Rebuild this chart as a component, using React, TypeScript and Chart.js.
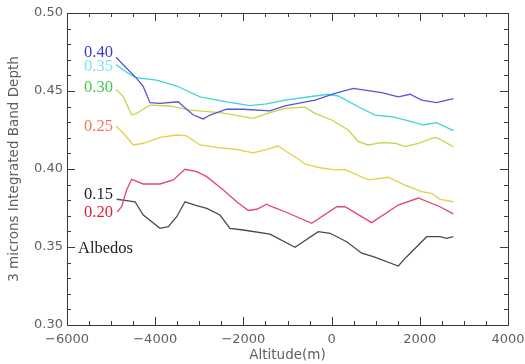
import React, { useEffect, useRef } from 'react';
import { Chart, registerables } from 'chart.js';

Chart.register(...registerables);

const X_MIN = -6000;
const X_MAX = 4000;
const Y_MIN = 0.3;
const Y_MAX = 0.5;
const X_STEP = 2000;
const Y_STEP = 0.05;
const X_MINOR = 500;
const Y_MINOR = 0.01;

const xTitle = 'Altitude(m)';
const yTitle = '3 microns Integrated Band Depth';

// Albedo 0.40
const blueAlt = [-4889, -4648, -4420, -4270, -4118, -3891, -3476, -3399, -3136, -2909, -2757, -2379, -2002, -1397, -1057, -376, 77, 492, 757, 1136, 1512, 1778, 2043, 2383, 2760];
const blueVal = [0.4716, 0.4646, 0.4581, 0.4528, 0.4425, 0.4421, 0.4431, 0.441, 0.4346, 0.4321, 0.4346, 0.4383, 0.4383, 0.4372, 0.4404, 0.4442, 0.4485, 0.4517, 0.4506, 0.4489, 0.4463, 0.4479, 0.4442, 0.4425, 0.4451];

// Albedo 0.35
const cyanAlt = [-4889, -4700, -4458, -4300, -3966, -3512, -2984, -2379, -1850, -1472, -1057, -376, -75, 152, 605, 984, 1363, 1816, 2080, 2383, 2760];
const cyanVal = [0.467, 0.463, 0.4588, 0.4581, 0.457, 0.4532, 0.4463, 0.4431, 0.4406, 0.4417, 0.4442, 0.4468, 0.4479, 0.4468, 0.4399, 0.4346, 0.4335, 0.4303, 0.4282, 0.4297, 0.4246];

// Albedo 0.30
const greenAlt = [-4889, -4723, -4533, -4420, -4118, -3664, -3211, -2531, -1776, -1397, -1057, -603, -376, 2, 379, 605, 832, 1136, 1438, 1665, 1966, 2270, 2383, 2760];
const greenVal = [0.4511, 0.4464, 0.4346, 0.4357, 0.441, 0.4404, 0.4378, 0.4361, 0.4325, 0.4361, 0.4389, 0.4396, 0.4357, 0.4314, 0.425, 0.4175, 0.4154, 0.4169, 0.4165, 0.4143, 0.4165, 0.4197, 0.4203, 0.4143];

// Albedo 0.25
const yellowAlt = [-4889, -4723, -4497, -4270, -3891, -3512, -3288, -2984, -2605, -2152, -1776, -1510, -1209, -1018, -755, -603, -263, 77, 304, 832, 1286, 1665, 2043, 2270, 2458, 2760];
const yellowVal = [0.4276, 0.4229, 0.4154, 0.4165, 0.4203, 0.4218, 0.4212, 0.4154, 0.4139, 0.4125, 0.4103, 0.4122, 0.4147, 0.4111, 0.4064, 0.4032, 0.4008, 0.3994, 0.3998, 0.393, 0.3947, 0.3897, 0.3855, 0.3844, 0.3806, 0.379];

// Albedo 0.20
const redAlt = [-4859, -4760, -4648, -4533, -4270, -3891, -3590, -3324, -3059, -2832, -2455, -2152, -1889, -1698, -1472, -1397, -1057, -451, 116, 304, 909, 1512, 1966, 2458, 2760];
const redVal = [0.3726, 0.3758, 0.3865, 0.3934, 0.3904, 0.3904, 0.393, 0.3998, 0.3983, 0.3951, 0.3865, 0.379, 0.3734, 0.3742, 0.3774, 0.3763, 0.3726, 0.3652, 0.3758, 0.3758, 0.3656, 0.3769, 0.3814, 0.3758, 0.3712];

// Albedo 0.15
const blackAlt = [-4873, -4648, -4458, -4270, -3891, -3703, -3512, -3324, -3098, -2832, -2531, -2304, -2002, -1397, -830, -302, -36, 343, 683, 946, 1512, 1703, 2156, 2458, 2609, 2760];
const blackVal = [0.3806, 0.3797, 0.379, 0.3705, 0.362, 0.363, 0.3694, 0.379, 0.3769, 0.3748, 0.3705, 0.362, 0.3609, 0.3583, 0.3498, 0.3598, 0.3588, 0.3534, 0.346, 0.3438, 0.3378, 0.3438, 0.3566, 0.3566, 0.3556, 0.3566];

const seriesNames = ['0.40', '0.35', '0.30', '0.25', '0.20', '0.15'];
const seriesAlts = [blueAlt, cyanAlt, greenAlt, yellowAlt, redAlt, blackAlt];
const seriesVals = [blueVal, cyanVal, greenVal, yellowVal, redVal, blackVal];
const lineColors = ['#5656d6', '#3ed6d8', '#c4d64a', '#e6d044', '#e6456c', '#4a4a4a'];

// In-plot annotations (data coordinates)
const labelTexts = ['0.40', '0.35', '0.30', '0.25', '0.15', '0.20', 'Albedos'];
const labelAlt = [-4957, -4957, -4957, -4957, -4957, -4957, -5751];
const labelVal = [0.4744, 0.4654, 0.4519, 0.4269, 0.3833, 0.372, 0.3487];
const labelAlign = ['right', 'right', 'right', 'right', 'right', 'right', 'left'];
const labelColors = ['#3a3ac8', '#7fe6e6', '#48c848', '#f07a5a', '#1e1e1e', '#e01e30', '#1e1e1e'];

const AXIS_COLOR = '#3a3a3a';
const TEXT_COLOR = '#606060';

const tickPlugin = {
  id: 'albedoTicks',
  afterDraw(chart: any) {
    const ctx: CanvasRenderingContext2D = chart.ctx;
    const xs = chart.scales.x;
    const ys = chart.scales.y;
    const L = Math.round(xs.getPixelForValue(X_MIN));
    const R = Math.round(xs.getPixelForValue(X_MAX));
    const T = Math.round(ys.getPixelForValue(Y_MAX));
    const B = Math.round(ys.getPixelForValue(Y_MIN));
    ctx.save();
    ctx.fillStyle = AXIS_COLOR;
    for (let v = X_MIN; v <= X_MAX + 1e-6; v += X_MINOR) {
      const px = Math.round(xs.getPixelForValue(v));
      const len = Math.abs(v % X_STEP) < 1e-6 ? 8 : 4;
      ctx.fillRect(px, B - len, 1, len);
      ctx.fillRect(px, T, 1, len);
    }
    const nY = Math.round((Y_MAX - Y_MIN) / Y_MINOR);
    const per = Math.round(Y_STEP / Y_MINOR);
    for (let i = 0; i <= nY; i++) {
      const v = Y_MIN + i * Y_MINOR;
      const py = Math.round(ys.getPixelForValue(v));
      const len = i % per === 0 ? 8 : 4;
      ctx.fillRect(L, py, len, 1);
      ctx.fillRect(R - len, py, len, 1);
    }
    ctx.restore();
  },
};

const textPlugin = {
  id: 'albedoText',
  afterDraw(chart: any) {
    const ctx: CanvasRenderingContext2D = chart.ctx;
    const xs = chart.scales.x;
    const ys = chart.scales.y;
    const L = xs.getPixelForValue(X_MIN);
    const R = xs.getPixelForValue(X_MAX);
    const T = ys.getPixelForValue(Y_MAX);
    const B = ys.getPixelForValue(Y_MIN);
    ctx.save();
    ctx.fillStyle = TEXT_COLOR;
    ctx.font = '13.5px "DejaVu Sans"';
    ctx.textAlign = 'center';
    ctx.textBaseline = 'middle';
    ctx.fillText(xTitle, (L + R) / 2, 355);
    ctx.translate(14, (T + B) / 2);
    ctx.rotate(-Math.PI / 2);
    ctx.fillText(yTitle, 0, 0);
    ctx.setTransform(1, 0, 0, 1, 0, 0);
    ctx.font = '16.5px "Liberation Serif"';
    for (let i = 0; i < labelTexts.length; i++) {
      ctx.fillStyle = labelColors[i];
      ctx.textAlign = labelAlign[i] as CanvasTextAlign;
      ctx.fillText(labelTexts[i], xs.getPixelForValue(labelAlt[i]), ys.getPixelForValue(labelVal[i]));
    }
    ctx.restore();
  },
};

export default function App() {
  const canvasRef = useRef<HTMLCanvasElement | null>(null);

  useEffect(() => {
    document.body.style.margin = '0';
    const canvas = canvasRef.current;
    if (!canvas) return;
    const datasets = seriesNames.map((name, i) => ({
      label: name,
      data: seriesAlts[i].map((a, j) => ({ x: a, y: seriesVals[i][j] })),
      borderColor: lineColors[i],
      borderWidth: 1.3,
      pointRadius: 0,
    }));
    const tickFont = { family: 'DejaVu Sans', size: 13 };
    const chart = new Chart(canvas, {
      type: 'line',
      data: { datasets },
      options: {
        animation: false,
        responsive: false,
        layout: { padding: 0 },
        plugins: { legend: { display: false }, tooltip: { enabled: false } },
        scales: {
          x: {
            type: 'linear', position: 'bottom', min: X_MIN, max: X_MAX,
            grid: { display: true, drawOnChartArea: false, drawTicks: false, color: AXIS_COLOR },
            border: { display: true, color: AXIS_COLOR, width: 1 },
            ticks: { stepSize: X_STEP, padding: 7, color: TEXT_COLOR, font: tickFont, maxRotation: 0,
              callback: (v: any) => String(v).replace('-', '\u2212') },
            afterFit: (s: any) => { s.height = 39; s.paddingLeft = 0; s.paddingRight = 0; },
          },
          x2: {
            type: 'linear', position: 'top', min: X_MIN, max: X_MAX,
            grid: { display: true, drawOnChartArea: false, drawTicks: false, color: AXIS_COLOR },
            border: { display: true, color: AXIS_COLOR, width: 1 },
            ticks: { display: false },
            afterFit: (s: any) => { s.height = 13; s.paddingLeft = 0; s.paddingRight = 0; },
          },
          y: {
            type: 'linear', position: 'left', min: Y_MIN, max: Y_MAX,
            grid: { display: true, drawOnChartArea: false, drawTicks: false, color: AXIS_COLOR },
            border: { display: true, color: AXIS_COLOR, width: 1 },
            ticks: { stepSize: Y_STEP, padding: 4, color: TEXT_COLOR, font: tickFont,
              callback: (v: any) => Number(v).toFixed(2) },
            afterFit: (s: any) => { s.width = 67; s.paddingTop = 0; s.paddingBottom = 0; },
          },
          y2: {
            type: 'linear', position: 'right', min: Y_MIN, max: Y_MAX,
            grid: { display: true, drawOnChartArea: false, drawTicks: false, color: AXIS_COLOR },
            border: { display: true, color: AXIS_COLOR, width: 1 },
            ticks: { display: false },
            afterFit: (s: any) => { s.width = 17; s.paddingTop = 0; s.paddingBottom = 0; },
          },
        },
      },
      plugins: [tickPlugin, textPlugin],
    });
    return () => chart.destroy();
  }, []);

  return (
    <div style={{ width: 525, height: 364, background: '#fff' }}>
      <canvas ref={canvasRef} width={525} height={364} />
    </div>
  );
}
